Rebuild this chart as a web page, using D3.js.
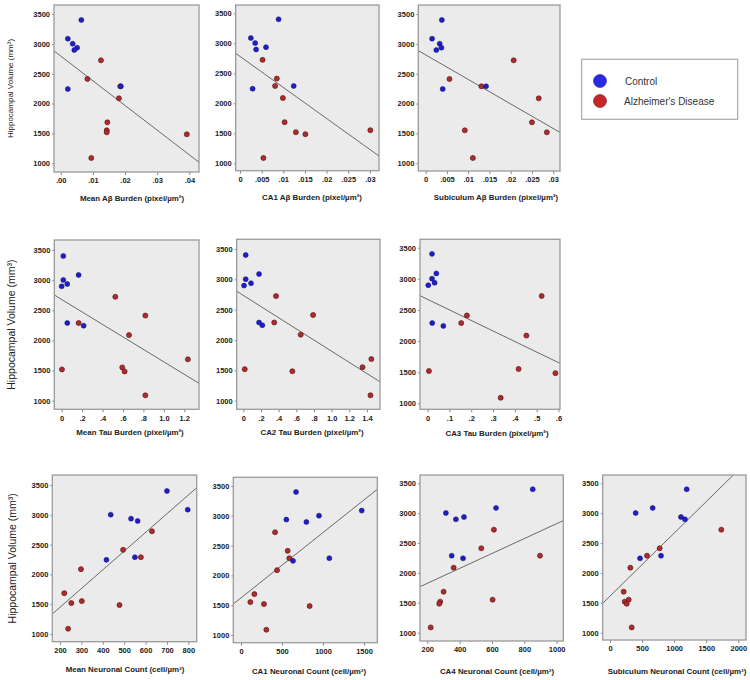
<!DOCTYPE html>
<html>
<head>
<meta charset="utf-8">
<script src="https://cdn.jsdelivr.net/npm/d3@7"></script>
<style>
  html, body { margin: 0; padding: 0; background: #ffffff; }
  svg { display: block; }
  .tick text { font-family: "Liberation Sans Narrow", "Arial Narrow", "Liberation Sans", sans-serif; font-weight: bold; font-size: 7.5px; fill: #222; }
  .tick line { stroke: #888; }
</style>
</head>
<body>
<svg id="chart" width="750" height="680"></svg>
<script>
// ---------------- DATA ----------------
// Hippocampal volume (mm³) for each subject
const controlVolume = [3400, 3087, 3003, 2936, 2897, 2244, 2289];
const adVolume      = [2724, 2412, 2289, 2088, 1686, 1552, 1519, 1485, 1089];

// x values per panel, same subject order as above (null = not visible)
const meanAbControl = [0.0064, 0.0022, 0.0037, 0.0051, 0.0042, 0.0022, 0.0187];
const meanAbAD      = [0.0125, 0.0083, 0.0185, 0.0181, 0.0145, 0.0143, 0.0143, 0.0392, 0.0095];
const ca1AbControl  = [0.0089, 0.0025, 0.0035, 0.0060, 0.0037, 0.0029, 0.0124];
const ca1AbAD       = [0.0052, 0.0085, 0.0081, 0.0099, 0.0103, 0.0301, 0.0129, 0.0151, 0.0054];
const subAbControl  = [0.0038, 0.0015, 0.0033, 0.0037, 0.0025, 0.0040, 0.0142];
const subAbAD       = [0.0207, 0.0056, 0.0131, 0.0266, 0.0250, 0.0092, 0.0285, null, 0.0111];

const meanTauControl = [0.016, 0.166, 0.016, 0.055, 0.000, 0.215, 0.055];
const meanTauAD      = [0.525, 0.819, 0.166, 0.659, 1.235, 0.593, 0.003, 0.616, 0.819];
const ca2TauControl  = [0.027, 0.178, 0.027, 0.087, 0.008, 0.215, 0.178];
const ca2TauAD       = [0.370, 0.790, 0.350, 0.650, 1.450, 1.350, 0.016, 0.555, 1.440];
const ca3TauControl  = [0.020, 0.040, 0.020, 0.032, 0.003, 0.072, 0.021];
const ca3TauAD       = [0.523, 0.180, 0.154, 0.453, null, 0.417, 0.006, 0.586, 0.335];

const meanNeuControl = [700, 797, 437, 532, 563, 417, 550];
const meanNeuAD      = [630, 495, 578, 298, 220, 302, 253, 478, 238];
const ca1NeuControl  = [671, 1472, 951, 553, 797, 634, 1077];
const ca1NeuAD       = [415, 569, 589, 439, 163, 114, 280, 837, 309];
const ca4NeuControl  = [852, 625, 315, 427, 377, 421, 351];
const ca4NeuAD       = [612, 534, 897, 363, 301, 604, 280, 274, 221];
const subNeuControl  = [1195, 665, 400, 1106, 1169, 468, 795];
const subNeuAD       = [1735, 774, 577, 317, 213, 291, 229, 260, 338];

// fit lines: [intercept, slope]
const meanAbFit  = [2795, -41350];
const ca1AbFit   = [2781, -51700];
const subAbFit   = [2815, -41060];
const meanTauFit = [2679, -1035];
const ca2TauFit  = [2735, -920];
const ca3TauFit  = [2670, -1693];
const meanNeuFit = [821, 3.139];
const ca1NeuFit  = [1623, 1.096];
const ca4NeuFit  = [1576, 1.249];
const subNeuFit  = [1612, 1.0545];

// ticks
const yTicks = [1000, 1500, 2000, 2500, 3000, 3500];
const meanAbTicks = [0, 0.01, 0.02, 0.03, 0.04];
const meanAbTickLabels = [".00", ".01", ".02", ".03", ".04"];
const ca1AbTicks = [0, 0.005, 0.01, 0.015, 0.02, 0.025, 0.03];
const ca1AbTickLabels = ["0", ".005", ".01", ".015", ".02", ".025", ".03"];
const subAbTicks = [0, 0.005, 0.01, 0.015, 0.02, 0.025, 0.03];
const subAbTickLabels = ["0", ".005", ".01", ".015", ".02", ".025", ".03"];
const meanTauTicks = [0, 0.2, 0.4, 0.6, 0.8, 1.0, 1.2];
const meanTauTickLabels = ["0", ".2", ".4", ".6", ".8", "1.0", "1.2"];
const ca2TauTicks = [0, 0.2, 0.4, 0.6, 0.8, 1.0, 1.2, 1.4];
const ca2TauTickLabels = ["0", ".2", ".4", ".6", ".8", "1.0", "1.2", "1.4"];
const ca3TauTicks = [0, 0.1, 0.2, 0.3, 0.4, 0.5, 0.6];
const ca3TauTickLabels = ["0", ".1", ".2", ".3", ".4", ".5", ".6"];
const meanNeuTicks = [200, 300, 400, 500, 600, 700, 800];
const meanNeuTickLabels = ["200", "300", "400", "500", "600", "700", "800"];
const ca1NeuTicks = [0, 500, 1000, 1500];
const ca1NeuTickLabels = ["0", "500", "1000", "1500"];
const ca4NeuTicks = [200, 400, 600, 800, 1000];
const ca4NeuTickLabels = ["200", "400", "600", "800", "1000"];
const subNeuTicks = [0, 500, 1000, 1500, 2000];
const subNeuTickLabels = ["0", "500", "1000", "1500", "2000"];

const yTitle = "Hippocampal Volume (mm³)";
const legendLabels = ["Control", "Alzheimer's Disease"];

// ---------------- LAYOUT ----------------
const panels = [
  {c: meanAbControl, a: meanAbAD, fit: meanAbFit, t: meanAbTicks, tl: meanAbTickLabels, title: "Mean Aβ Burden (pixel/µm²)",
   f: [54, 199, 5, 172], xd: [-0.0021, 0.0430], yd: [854, 3651], ty: 201, tx: 132, yt: {x: 13, size: 8, fam: "Liberation Sans"}},
  {c: ca1AbControl, a: ca1AbAD, fit: ca1AbFit, t: ca1AbTicks, tl: ca1AbTickLabels, title: "CA1 Aβ Burden (pixel/µm²)",
   f: [235.7, 379, 5, 170.7], xd: [-0.001, 0.0321], yd: [877, 3638], ty: 200, tx: 312},
  {c: subAbControl, a: subAbAD, fit: subAbFit, t: subAbTicks, tl: subAbTickLabels, title: "Subiculum Aβ Burden (pixel/µm²)",
   f: [418.3, 560, 5, 171], xd: [-0.00174, 0.0316], yd: [871, 3651], ty: 200, tx: 496},
  {c: meanTauControl, a: meanTauAD, fit: meanTauFit, t: meanTauTicks, tl: meanTauTickLabels, title: "Mean Tau Burden (pixel/µm²)",
   f: [54.3, 199, 240, 409.3], xd: [-0.072, 1.344], yd: [857, 3666], ty: 435, tx: 130, yt: {x: 15, size: 10.5, fam: "Liberation Sans Narrow"}},
  {c: ca2TauControl, a: ca2TauAD, fit: ca2TauFit, t: ca2TauTicks, tl: ca2TauTickLabels, title: "CA2 Tau Burden (pixel/µm²)",
   f: [236.7, 380, 239.3, 409.3], xd: [-0.075, 1.548], yd: [858, 3660], ty: 435, tx: 312},
  {c: ca3TauControl, a: ca3TauAD, fit: ca3TauFit, t: ca3TauTicks, tl: ca3TauTickLabels, title: "CA3 Tau Burden (pixel/µm²)",
   f: [420, 560, 239.3, 409.3], xd: [-0.035, 0.607], yd: [904, 3635], ty: 436, tx: 497},
  {c: meanNeuControl, a: meanNeuAD, fit: meanNeuFit, t: meanNeuTicks, tl: meanNeuTickLabels, title: "Mean Neuronal Count (cell/µm³)",
   f: [52.3, 196.7, 475, 641.7], xd: [164, 839], yd: [871, 3668], ty: 672, tx: 125, yt: {x: 16, size: 10.5, fam: "Liberation Sans Narrow"}},
  {c: ca1NeuControl, a: ca1NeuAD, fit: ca1NeuFit, t: ca1NeuTicks, tl: ca1NeuTickLabels, title: "CA1 Neuronal Count (cell/µm³)",
   f: [233.3, 377.3, 477.3, 642.7], xd: [-94, 1662], yd: [871, 3646], ty: 674, tx: 309},
  {c: ca4NeuControl, a: ca4NeuAD, fit: ca4NeuFit, t: ca4NeuTicks, tl: ca4NeuTickLabels, title: "CA4 Neuronal Count (cell/µm³)",
   f: [420, 563.3, 475, 641], xd: [155, 1041], yd: [861, 3639], ty: 674, tx: 497},
  {c: subNeuControl, a: subNeuAD, fit: subNeuFit, t: subNeuTicks, tl: subNeuTickLabels, title: "Subiculum Neuronal Count (cell/µm³)",
   f: [602.7, 746, 475, 640], xd: [-114, 2120], yd: [878, 3639], ty: 674, tx: 677}
];

const svg = d3.select("#chart");
const defs = svg.append("defs");

const colors = {
  control: {fill: "#1f1fc4", stroke: "#0e0e78"},
  ad: {fill: "#b02c2c", stroke: "#5e1414"}
};

panels.forEach((p, i) => {
  const [x0, x1, y0, y1] = p.f;
  const x = d3.scaleLinear().domain(p.xd).range([x0, x1]);
  const y = d3.scaleLinear().domain(p.yd).range([y1, y0]);
  const g = svg.append("g");

  defs.append("clipPath").attr("id", "clip" + i)
    .append("rect").attr("x", x0).attr("y", y0).attr("width", x1 - x0).attr("height", y1 - y0);

  g.append("rect").attr("x", x0).attr("y", y0).attr("width", x1 - x0).attr("height", y1 - y0)
    .attr("fill", "#ebebeb");

  // axes
  const xa = g.append("g").attr("transform", `translate(0,${y1})`)
    .call(d3.axisBottom(x).tickValues(p.t).tickFormat((d, k) => p.tl[k]).tickSize(3).tickPadding(3));
  xa.select(".domain").remove();
  const ya = g.append("g").attr("transform", `translate(${x0},0)`)
    .call(d3.axisLeft(y).tickValues(yTicks).tickFormat(d3.format("d")).tickSize(2).tickPadding(2));
  ya.select(".domain").remove();

  // fit line
  const [a, b] = p.fit;
  g.append("line").attr("clip-path", `url(#clip${i})`)
    .attr("x1", x(p.xd[0])).attr("y1", y(a + b * p.xd[0]))
    .attr("x2", x(p.xd[1])).attr("y2", y(a + b * p.xd[1]))
    .attr("stroke", "#5a5a5a").attr("stroke-width", 0.9);

  // points
  const ctrl = p.c.map((v, k) => ({x: v, y: controlVolume[k]})).filter(d => d.x !== null);
  const ad = p.a.map((v, k) => ({x: v, y: adVolume[k]})).filter(d => d.x !== null);
  const pts = g.append("g").attr("clip-path", `url(#clip${i})`);
  pts.selectAll(".ad").data(ad).join("circle")
    .attr("cx", d => x(d.x)).attr("cy", d => y(d.y)).attr("r", 2.5)
    .attr("fill", colors.ad.fill).attr("stroke", colors.ad.stroke).attr("stroke-width", 0.7);
  pts.selectAll(".ctrl").data(ctrl).join("circle")
    .attr("cx", d => x(d.x)).attr("cy", d => y(d.y)).attr("r", 2.5)
    .attr("fill", colors.control.fill).attr("stroke", colors.control.stroke).attr("stroke-width", 0.5);

  // frame
  g.append("rect").attr("x", x0).attr("y", y0).attr("width", x1 - x0).attr("height", y1 - y0)
    .attr("fill", "none").attr("stroke", "#9a9a9a").attr("stroke-width", 1.3);

  // x title
  g.append("text").attr("x", p.tx).attr("y", p.ty)
    .attr("text-anchor", "middle")
    .attr("font-family", "'Liberation Sans Narrow', 'Arial Narrow', sans-serif")
    .attr("font-weight", "bold").attr("font-size", 7.9).attr("fill", "#222")
    .text(p.title);

  // y title
  if (p.yt) {
    g.append("text")
      .attr("transform", `translate(${p.yt.x},${(y0 + y1) / 2}) rotate(-90)`)
      .attr("text-anchor", "middle")
      .attr("font-family", `'${p.yt.fam}', sans-serif`)
      .attr("font-size", p.yt.size).attr("fill", "#222")
      .text(yTitle);
  }
});

// legend
const lg = svg.append("g");
lg.append("rect").attr("x", 581.7).attr("y", 59.3).attr("width", 156).attr("height", 60)
  .attr("fill", "#ffffff").attr("stroke", "#aaaaaa").attr("stroke-width", 1.2);
const legendColors = ["#2a2ae6", "#c42828"];
const legendStroke = ["#1a1a90", "#7a1818"];
legendLabels.forEach((lab, k) => {
  const cy = 81 + k * 20;
  lg.append("circle").attr("cx", 600).attr("cy", cy).attr("r", 6.5)
    .attr("fill", legendColors[k]).attr("stroke", legendStroke[k]).attr("stroke-width", 0.6);
  lg.append("text").attr("x", k === 0 ? 625 : 624).attr("y", cy + 3.5)
    .attr("font-family", "'Liberation Sans', Arial, sans-serif").attr("font-size", 10)
    .attr("fill", "#333").text(lab);
});
</script>
</body>
</html>
